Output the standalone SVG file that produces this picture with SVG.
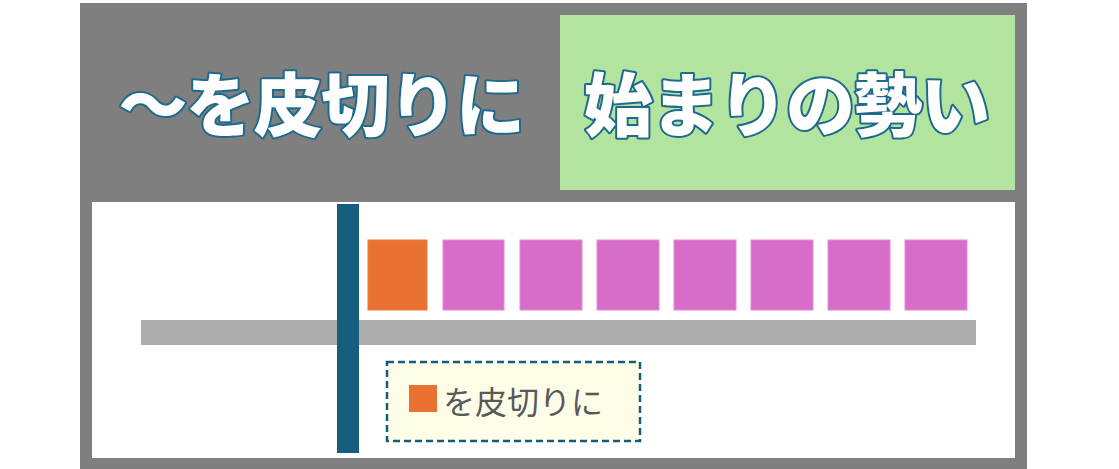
<svg xmlns="http://www.w3.org/2000/svg" width="1119" height="469" viewBox="0 0 1119 469">
<style>
.title{font-family:"Noto Sans CJK JP","Noto Sans CJK SC",sans-serif;font-weight:900;font-size:69px;fill:#ffffff;stroke:#1d6a8c;stroke-width:4;stroke-linejoin:round;paint-order:stroke}
.pink{fill:#d86dc8;stroke:#e58ad8;stroke-width:1}
.label{font-family:"Noto Sans CJK JP","Noto Sans CJK SC",sans-serif;font-size:32px;fill:#595959}
</style>
<rect width="1119" height="469" fill="#ffffff"/>
<g id="frame">
<rect x="80" y="3" width="947" height="466" fill="#7f7f7f"/>
<rect x="92" y="202" width="923" height="256" fill="#ffffff"/>
</g>
<g id="title-left">
<text class="title" x="321" y="131" text-anchor="middle" letter-spacing="-1.5">～を皮切りに</text>
</g>
<g id="title-right">
<rect x="560" y="15" width="455" height="175" fill="#b3e49f"/>
<text class="title" x="786" y="131" text-anchor="middle" letter-spacing="-1.5">始まりの勢い</text>
</g>
<g id="timeline">
<rect x="141" y="320" width="835" height="25" fill="#adadad"/>
</g>
<g id="boundary">
<rect x="337" y="204" width="22" height="249" fill="#175e7e"/>
</g>
<g id="blocks">
<rect x="368" y="240" width="59" height="70" fill="#e97132" stroke="#ee7a3a" stroke-width="1"/>
<rect class="pink" x="443" y="240" width="61" height="70"/>
<rect class="pink" x="520" y="240" width="62" height="70"/>
<rect class="pink" x="597" y="240" width="62" height="70"/>
<rect class="pink" x="674" y="240" width="62" height="70"/>
<rect class="pink" x="751" y="240" width="62" height="70"/>
<rect class="pink" x="828" y="240" width="62" height="70"/>
<rect class="pink" x="905" y="240" width="62" height="70"/>
</g>
<g id="legend">
<rect x="387" y="362" width="253" height="79" fill="#fefee8" stroke="#175e7e" stroke-width="2.5" stroke-dasharray="7,4"/>
<rect x="409" y="385" width="28" height="27" fill="#e97132"/>
<text class="label" x="443" y="414">を皮切りに</text>
</g>
</svg>
